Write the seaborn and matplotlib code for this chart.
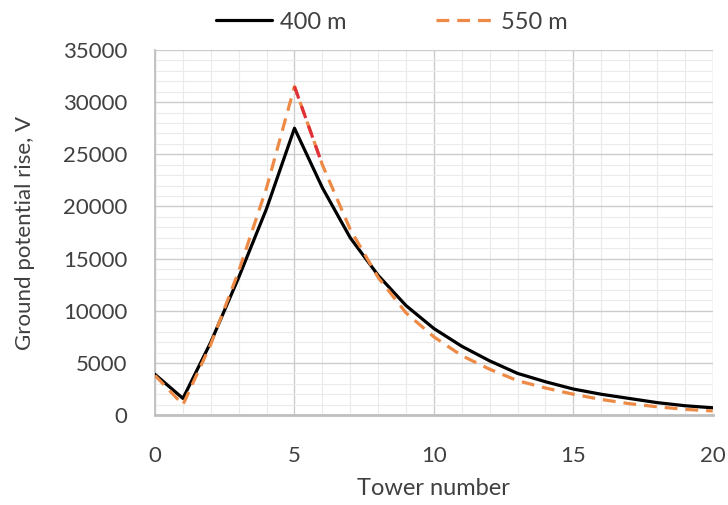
import matplotlib.pyplot as plt
from matplotlib.ticker import MultipleLocator
import pandas as pd
import seaborn as sns

# datos
towers = list(range(21))
gpr_400 = [3900, 1600, 7000, 13200, 19800, 27500, 21800, 17000, 13400, 10500,
           8300, 6600, 5200, 4000, 3200, 2500, 2000, 1600, 1200, 900, 700]
gpr_550 = [3800, 1000, 6800, 13800, 21800, 31500, 24000, 17800, 13200, 9800,
           7500, 5700, 4400, 3300, 2600, 2000, 1500, 1100, 800, 550, 400]
series_names = ['400 m', '550 m']

df = pd.DataFrame({
    'Tower': towers * 2,
    'GPR': gpr_400 + gpr_550,
    'Case': [series_names[0]] * len(towers) + [series_names[1]] * len(towers),
})

sns.set_theme(style="white")
plt.rcParams['font.family'] = ['Lato', 'DejaVu Sans']
text_color = '#404040'
dash = (4, 2.5)

fig = plt.figure(figsize=(7.28, 5.05), dpi=100)
ax = fig.add_axes([0.213, 0.178, 0.766, 0.723])

sns.lineplot(data=df, x='Tower', y='GPR', hue='Case', style='Case',
             palette={'400 m': 'black', '550 m': '#ED8A45'},
             dashes={'400 m': '', '550 m': dash},
             linewidth=2.3, ax=ax, legend=False, zorder=3)

# tramo rojo en la bajada de la curva de 550 m
red_part = df[(df['Case'] == '550 m') & (df['Tower'].between(5, 6))]
sns.lineplot(data=red_part, x='Tower', y='GPR', color='#E0303A',
             linewidth=2.3, ax=ax, legend=False, zorder=4)
ax.lines[-1].set_dashes(dash)

ax.set_xlim(0, 20)
ax.set_ylim(0, 35000)
ax.xaxis.set_major_locator(MultipleLocator(5))
ax.xaxis.set_minor_locator(MultipleLocator(1))
ax.yaxis.set_major_locator(MultipleLocator(5000))
ax.yaxis.set_minor_locator(MultipleLocator(1000))
ax.grid(which='major', color='#CCCCCC', linewidth=1.0)
ax.grid(which='minor', color='#EAEAEA', linewidth=0.8)
ax.set_axisbelow(True)

for side in ['top', 'right']:
    ax.spines[side].set_visible(False)
ax.spines['left'].set_color('#BFBFBF')
ax.spines['bottom'].set_color('#BFBFBF')
ax.spines['bottom'].set_linewidth(2)

ax.tick_params(axis='x', which='major', direction='out', length=7, width=1,
               color='#BFBFBF', labelsize=16, labelcolor=text_color, pad=15)
ax.tick_params(axis='y', which='major', direction='out', length=6, width=1,
               color='#BFBFBF', labelsize=16, labelcolor=text_color, pad=14)
ax.tick_params(which='minor', length=0)

ax.set_xlabel('Tower number', fontsize=17, color=text_color, labelpad=9)
ax.set_ylabel('Ground potential rise, V', fontsize=16, color=text_color, labelpad=20)

handles = [plt.Line2D([], [], color='black', linewidth=2.3),
           plt.Line2D([], [], color='#ED8A45', linewidth=2.3, dashes=dash)]
fig.legend(handles, series_names, loc='center', bbox_to_anchor=(0.538, 0.956),
           ncol=2, frameon=False, fontsize=17, handlelength=2.4, handletextpad=0.34,
           columnspacing=3.8, labelcolor=text_color)

plt.savefig('out.png', dpi=100)
plt.close()
